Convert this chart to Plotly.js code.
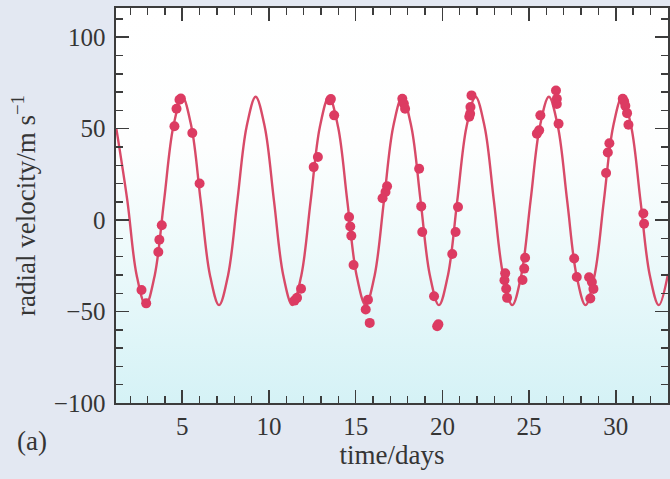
<!DOCTYPE html>
<html>
<head>
<meta charset="utf-8">
<script src="https://cdn.plot.ly/plotly-3.0.1.min.js"></script>
<style>html,body{margin:0;padding:0;background:#e3e8f2;}</style>
</head>
<body>
<div id="chart" style="width:670px;height:479px;"></div>
<script>
// Fitted curve (knots; drawn with spline smoothing)
const curveTime = [1.20,1.836,2.365,2.893,3.421,3.950,4.478,5.006,5.535,6.063,6.592,7.120,7.648,8.177,8.705,9.233,9.762,10.290,10.818,11.347,11.875,12.404,12.932,13.460,13.989,14.517,15.045,15.574,16.102,16.630,17.159,17.687,18.216,18.744,19.272,19.801,20.329,20.857,21.386,21.914,22.442,22.971,23.499,24.027,24.556,25.084,25.612,26.141,26.669,27.197,27.726,28.254,28.783,29.311,29.839,30.368,30.896,31.424,31.953,32.481,33.01];
const curveVel = [50,10.5,-29.8,-46.5,-29.8,10.5,50.8,67.5,50.8,10.5,-29.8,-46.5,-29.8,10.5,50.8,67.5,50.8,10.5,-29.8,-46.5,-29.8,10.5,50.8,67.5,50.8,10.5,-29.8,-46.5,-29.8,10.5,50.8,67.5,50.8,10.5,-29.8,-46.5,-29.8,10.5,50.8,67.5,50.8,10.5,-29.8,-46.5,-29.8,10.5,50.8,67.5,50.8,10.5,-29.8,-46.5,-29.8,10.5,50.8,67.5,50.8,10.5,-29.8,-46.5,-29.5];

const obsTime = [2.65,2.92,3.62,3.68,3.82,4.55,4.67,4.84,4.92,5.58,6.00,
  11.47,11.62,11.85,12.58,12.82,13.52,13.57,13.76,
  14.62,14.69,14.75,14.88,15.58,15.71,15.81,16.55,16.72,16.81,
  17.69,17.78,17.85,18.66,18.78,18.84,19.52,19.70,19.77,
  20.57,20.76,20.90,21.55,21.60,21.62,21.68,
  23.58,23.62,23.68,23.73,24.62,24.72,24.77,25.45,25.58,25.65,26.55,26.60,26.60,26.70,
  27.60,27.75,28.46,28.53,28.62,28.71,29.44,29.54,29.63,30.40,30.48,30.55,30.65,30.73,31.59,31.63];
const obsVel = [-38.2,-45.5,-17.4,-10.7,-2.8,51.3,60.9,65.8,66.5,47.6,20.0,
  -44.0,-42.5,-37.5,29.0,34.5,65.5,66.2,57.3,
  1.7,-3.5,-8.5,-24.5,-48.9,-43.5,-56.2,12.0,15.4,18.5,
  66.4,63.6,60.9,28.1,7.5,-6.5,-41.6,-58.0,-57.0,
  -18.5,-6.5,7.2,56.5,58.2,61.8,68.2,
  -32.9,-29.1,-37.5,-42.5,-32.7,-26.5,-20.6,47.3,49.1,57.3,70.9,66.4,63.5,52.7,
  -21.0,-31.1,-31.2,-42.9,-33.8,-37.6,25.8,37.0,42.0,66.4,65.0,62.5,58.5,52.2,3.6,-2.0];

const xTickVals = [5,10,15,20,25,30];
const yTickVals = [-100,-50,0,50,100];

const fontFam = '"Liberation Serif", "Times New Roman", serif';
const txtColor = '#353535';
const axColor = '#3c3c3c';

const svg = "<svg xmlns='http://www.w3.org/2000/svg' width='10' height='100' preserveAspectRatio='none'>" +
  "<defs><linearGradient id='g' x1='0' y1='0' x2='0' y2='1'>" +
  "<stop offset='0' stop-color='#ffffff'/><stop offset='0.35' stop-color='#fdfefe'/>" +
  "<stop offset='0.6' stop-color='#eefafb'/>" +
  "<stop offset='1' stop-color='#d5f2f6'/></linearGradient></defs>" +
  "<rect width='10' height='100' fill='url(#g)'/></svg>";
const bgSrc = 'data:image/svg+xml;base64,' + btoa(svg);

const traces = [
  {x: curveTime, y: curveVel, type: 'scatter', mode: 'lines',
   line: {color: '#d84a68', width: 2.4, shape: 'spline', smoothing: 1},
   hoverinfo: 'skip', showlegend: false},
  {x: obsTime, y: obsVel, type: 'scatter', mode: 'markers',
   marker: {color: '#dc3b62', size: 10, line: {width: 0}},
   showlegend: false}
];

const axisCommon = {
  showgrid: false, zeroline: false, showline: true, linecolor: axColor, linewidth: 1.6,
  mirror: 'ticks', ticks: 'inside', tickcolor: axColor, tickwidth: 1.6, ticklen: 13,
  tickfont: {family: fontFam, size: 25, color: txtColor}
};

const layout = {
  width: 670, height: 479,
  margin: {l: 116, r: 2, t: 8, b: 76},
  paper_bgcolor: '#e3e8f2',
  plot_bgcolor: '#ffffff',
  font: {family: fontFam, color: txtColor},
  xaxis: Object.assign({}, axisCommon, {
    range: [1.18, 33.01], tickmode: 'array', tickvals: xTickVals,
    minor: {dtick: 1, tick0: 0, ticks: 'inside', ticklen: 7, tickcolor: axColor, tickwidth: 1.4},
    title: {text: 'time/days', font: {family: fontFam, size: 27, color: txtColor}, standoff: 2}
  }),
  yaxis: Object.assign({}, axisCommon, {
    range: [-100, 116], tickmode: 'array', tickvals: yTickVals,
    ticklabelstandoff: 4,
    minor: {dtick: 10, tick0: 0, ticks: 'inside', ticklen: 7, tickcolor: axColor, tickwidth: 1.4},
    title: {text: 'radial velocity/m s<sup>\u22121</sup>', font: {family: fontFam, size: 27, color: txtColor}, standoff: 10}
  }),
  images: [{source: bgSrc, xref: 'paper', yref: 'paper', x: 0, y: 1, sizex: 1, sizey: 1,
    xanchor: 'left', yanchor: 'top', sizing: 'stretch', layer: 'below'}],
  annotations: [{text: '(a)', xref: 'paper', yref: 'paper', x: -0.152, y: -0.095,
    xanchor: 'center', yanchor: 'middle', showarrow: false,
    font: {family: fontFam, size: 27, color: txtColor}}]
};

Plotly.newPlot('chart', traces, layout, {displayModeBar: false, staticPlot: true});
</script>
</body>
</html>
